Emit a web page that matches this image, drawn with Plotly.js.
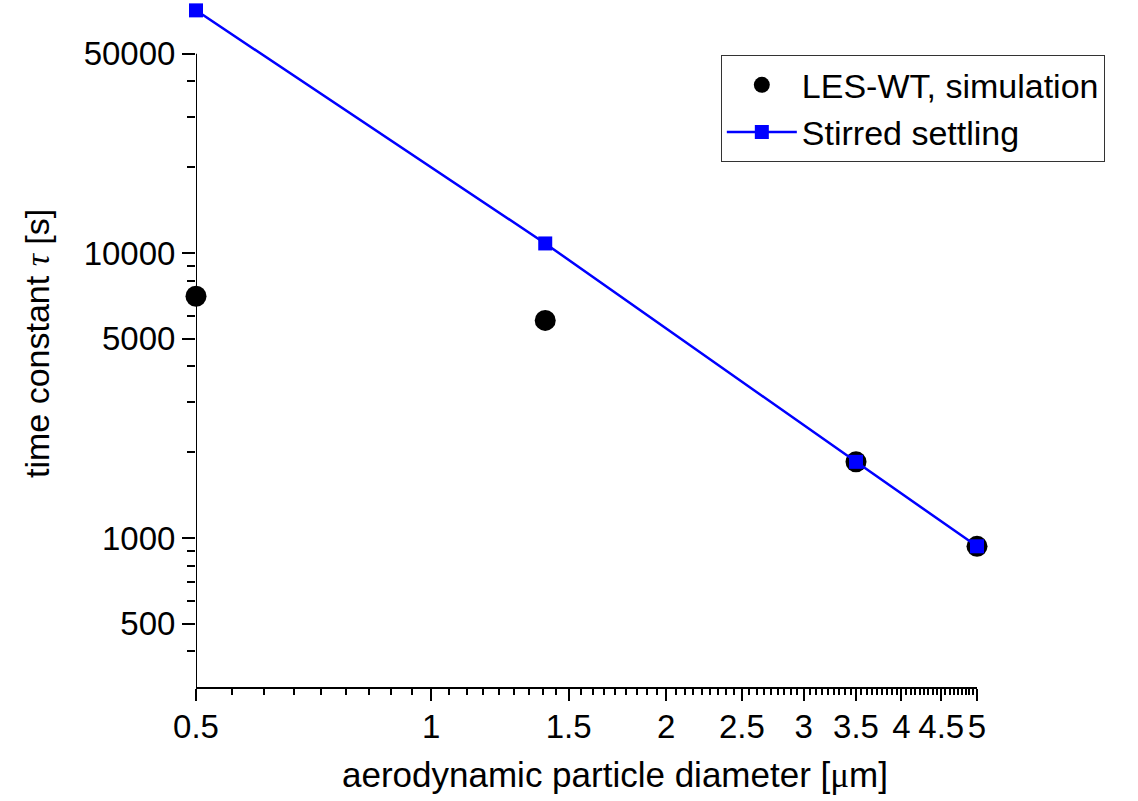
<!DOCTYPE html>
<html>
<head>
<meta charset="utf-8">
<script src="https://cdn.plot.ly/plotly-3.0.1.min.js"></script>
<style>html,body{margin:0;padding:0;background:#fff;}#chart{width:1138px;height:801px;}</style>
</head>
<body>
<div id="chart"></div>
<script>
// ---- data ----
const lesX = [0.5, 1.4, 3.5, 5];
const lesY = [7050, 5800, 1850, 935];
const stirX = [0.5, 1.4, 3.5, 5];
const stirY = [71000, 10800, 1850, 935];
const xTickVals = [0.5, 1, 1.5, 2, 2.5, 3, 3.5, 4, 4.5, 5];
const xTickText = ['0.5', '1', '1.5', '2', '2.5', '3', '3.5', '4', '4.5', '5'];
const yTickVals = [500, 1000, 5000, 10000, 50000];
const yTickText = ['500', '1000', '5000', '10000', '50000'];
const yMinorVals = [400, 600, 700, 800, 900, 2000, 3000, 4000, 6000, 7000, 8000, 9000, 20000, 30000, 40000];

// minor x ticks: 8 subdivisions per 0.5 interval (axis styling)
const xMinorVals = [];
for (let i = 0; i < xTickVals.length - 1; i++) {
  const a = xTickVals[i], b = xTickVals[i + 1];
  for (let k = 1; k < 9; k++) xMinorVals.push(a + (b - a) * k / 9);
}

const F = 'Liberation Sans, Arial, sans-serif';

const traces = [
  {
    x: lesX, y: lesY, type: 'scatter', mode: 'markers',
    name: 'LES-WT, simulation',
    marker: {symbol: 'circle', size: 21, color: '#000000'},
    cliponaxis: false
  },
  {
    x: stirX, y: stirY, type: 'scatter', mode: 'lines+markers',
    name: 'Stirred settling',
    line: {color: '#0000ff', width: 2.5},
    marker: {symbol: 'square', size: 14, color: '#0000ff'},
    cliponaxis: false
  }
];

const yTop = Math.log10(300) + 683 / 285;

const layout = {
  width: 1138, height: 801,
  margin: {l: 196, r: 161, t: 4, b: 114, pad: 0},
  paper_bgcolor: '#ffffff', plot_bgcolor: '#ffffff',
  font: {family: F, size: 33, color: '#000000'},
  showlegend: true,
  legend: {
    x: 0.672, y: 0.925, xanchor: 'left', yanchor: 'top',
    bgcolor: '#ffffff', bordercolor: '#333333', borderwidth: 1,
    font: {family: F, size: 34, color: '#000000'},
    tracegroupgap: 0, itemwidth: 70
  },
  xaxis: {
    type: 'log',
    range: [Math.log10(0.5), Math.log10(5)],
    tickmode: 'array', tickvals: xTickVals, ticktext: xTickText,
    tickangle: 0,
    ticks: 'outside', ticklen: 12, tickwidth: 2, tickcolor: '#000',
    ticklabelstandoff: -3,
    showline: true, linecolor: '#000', linewidth: 2,
    showgrid: false, zeroline: false,
    tickfont: {family: F, size: 33, color: '#000'},
    minor: {tickmode: 'array', tickvals: xMinorVals, ticks: 'outside', ticklen: 6, tickwidth: 2, tickcolor: '#000', showgrid: false},
    layer: 'below traces'
  },
  yaxis: {
    type: 'log',
    range: [Math.log10(300), yTop],
    tickmode: 'array', tickvals: yTickVals, ticktext: yTickText,
    ticks: 'outside', ticklen: 13, tickwidth: 2, tickcolor: '#000',
    showline: false,
    showgrid: false, zeroline: false,
    tickfont: {family: F, size: 33, color: '#000'},
    minor: {tickmode: 'array', tickvals: yMinorVals, ticks: 'outside', ticklen: 8, tickwidth: 2, tickcolor: '#000', showgrid: false},
    layer: 'below traces'
  },
  shapes: [
    {type: 'line', xref: 'x', yref: 'y', x0: 0.5, x1: 0.5, y0: 300, y1: 50000,
     line: {color: '#000', width: 2}, layer: 'below'}
  ],
  annotations: [
    {xref: 'paper', yref: 'paper', x: (615 - 196) / 781, y: -(775 - 687) / 683,
     xanchor: 'center', yanchor: 'middle', showarrow: false,
     text: 'aerodynamic particle diameter [<span style="font-family:\'Liberation Serif\'">μ</span>m]',
     font: {family: F, size: 35, color: '#000'}},
    {xref: 'paper', yref: 'paper', x: -(196 - 37) / 781, y: (687 - 344) / 683,
     xanchor: 'center', yanchor: 'middle', showarrow: false, textangle: -90,
     text: 'time constant <span style="font-family:\'Liberation Serif\'"><i>τ</i></span> [s]',
     font: {family: F, size: 34, color: '#000'}}
  ]
};

Plotly.newPlot('chart', traces, layout, {displayModeBar: false, staticPlot: true});
</script>
</body>
</html>
